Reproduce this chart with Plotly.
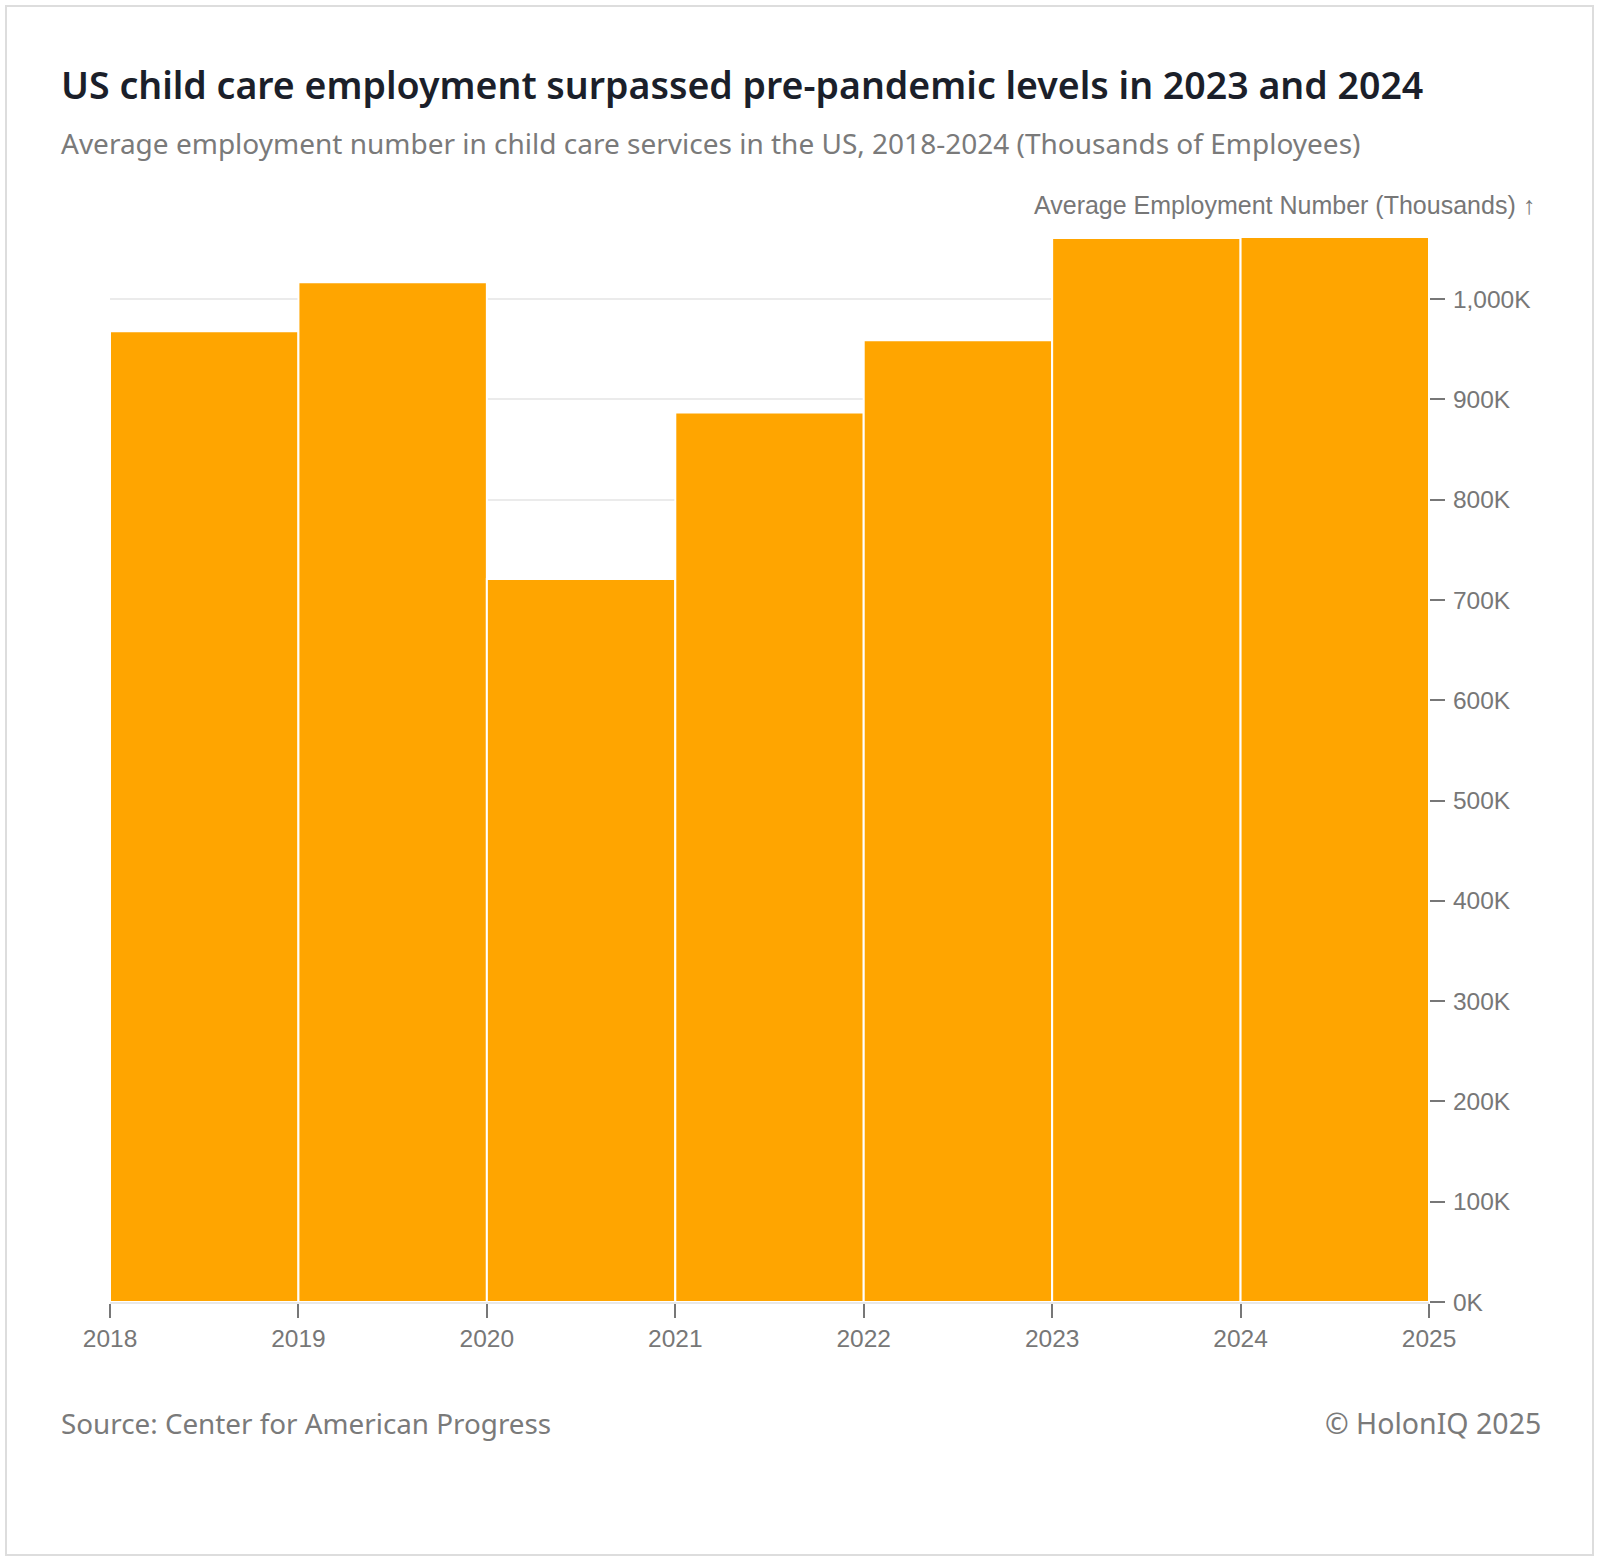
import plotly.graph_objects as go

# data (thousands of employees)
years = [2018, 2019, 2020, 2021, 2022, 2023, 2024]
employment = [968, 1017, 721, 887, 959, 1061, 1062]
y_ticks = [0, 100, 200, 300, 400, 500, 600, 700, 800, 900, 1000]
y_labels = ["0K", "100K", "200K", "300K", "400K", "500K", "600K", "700K", "800K", "900K", "1,000K"]
x_ticks = [2018, 2019, 2020, 2021, 2022, 2023, 2024, 2025]

W, H = 1600, 1562
L, R, T, B = 110, 1429, 237, 1302  # plot area in px

def px_x(x):
    return (x - L) / (R - L)

def px_y(y):
    return (B - y) / (B - T)

grey = "#777777"

fig = go.Figure()
fig.add_trace(go.Bar(
    x=years,
    y=employment,
    width=1,
    offset=0,
    marker=dict(color="#FFA500", line=dict(color="white", width=2)),
    hovertemplate="%{x}: %{y:,}K<extra></extra>",
))

fig.update_layout(
    width=W,
    height=H,
    margin=dict(l=L, r=W - R, t=T, b=H - B),
    paper_bgcolor="white",
    plot_bgcolor="white",
    showlegend=False,
    font=dict(family="Liberation Sans, Arial", color=grey, size=24),
    xaxis=dict(
        range=[2018, 2025],
        tickvals=x_ticks,
        ticks="outside",
        ticklen=14,
        tickwidth=2,
        tickcolor=grey,
        showgrid=False,
        zeroline=False,
        showline=True,
        linecolor="#e8e8e8",
        linewidth=2,
        tickfont=dict(size=24.5, color=grey),
    ),
    yaxis=dict(
        side="right",
        range=[0, max(employment)],
        tickvals=y_ticks,
        ticktext=y_labels,
        ticks="outside",
        ticklen=15,
        tickwidth=2,
        tickcolor=grey,
        ticklabelstandoff=3,
        showgrid=True,
        gridcolor="#ebebeb",
        gridwidth=2,
        zeroline=False,
        showline=False,
        tickfont=dict(size=24.5, color=grey),
    ),
)

annotations = [
    dict(text="US child care employment surpassed pre-pandemic levels in 2023 and 2024",
         x=px_x(59), y=px_y(85), xanchor="left", yanchor="middle",
         font=dict(family="Noto Sans", size=37.5, color="#1b1f2a", weight=600)),
    dict(text="Average employment number in child care services in the US, 2018-2024 (Thousands of Employees)",
         x=px_x(59), y=px_y(143), xanchor="left", yanchor="middle",
         font=dict(family="Noto Sans", size=28, color="#7a7a7a")),
    dict(text="Average Employment Number (Thousands) ↑",
         x=px_x(1537), y=px_y(205), xanchor="right", yanchor="middle",
         font=dict(family="Liberation Sans, Arial", size=25, color=grey)),
    dict(text="Source: Center for American Progress",
         x=px_x(59), y=px_y(1423), xanchor="left", yanchor="middle",
         font=dict(family="Noto Sans", size=27.8, color="#7a7a7a")),
    dict(text="© HolonIQ 2025",
         x=px_x(1543), y=px_y(1423), xanchor="right", yanchor="middle",
         font=dict(family="Noto Sans", size=28.5, color="#7a7a7a")),
]
for a in annotations:
    a.update(xref="paper", yref="paper", showarrow=False)
fig.update_layout(annotations=annotations)

# light frame around the card
fig.add_shape(type="rect", xref="paper", yref="paper",
              x0=px_x(6), x1=px_x(1593), y0=px_y(1555), y1=px_y(6),
              line=dict(color="#dddddd", width=2), layer="below")

# drop the default 8px body margin so the figure sits at the page corner
fig.write_html("out.html", config={"displayModeBar": False},
               post_script="document.body.style.margin='0';")
